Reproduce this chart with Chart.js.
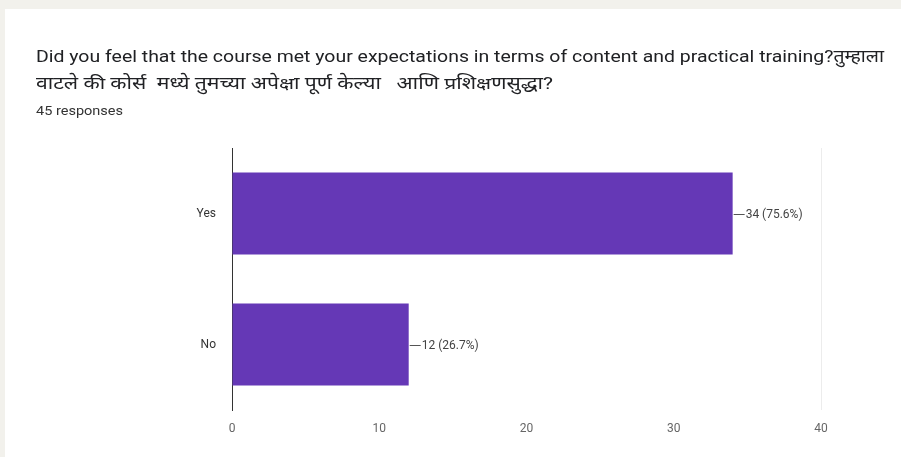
<!DOCTYPE html>
<html>
<head>
<meta charset="utf-8">
<script src="https://cdn.jsdelivr.net/npm/chart.js@4/dist/chart.umd.min.js"></script>
<style>
  html, body { margin: 0; padding: 0; background: #f2f1ec; }
  #card { position: absolute; left: 5px; top: 9px; width: 896px; height: 448px; background: #ffffff; }
  #wrap { position: absolute; left: 0; top: 0; width: 901px; height: 457px; }
  .t { position: absolute; left: 36px; white-space: nowrap; color: #202124;
       font-family: Roboto, "Noto Sans", "Noto Sans Devanagari", "Lohit Devanagari", sans-serif; transform-origin: 0 0; }
  #t1 { top: 44px; font-size: 17px; }
  #t2 { top: 71px; font-size: 17px; }
  #t3 { top: 103px; font-size: 13px; color: #333; }
</style>
</head>
<body>
<div id="card"></div>
<div id="wrap"><canvas id="c" width="901" height="457"></canvas></div>
<div class="t" id="t1">Did you feel that the course met your expectations in terms of content and practical training?तुम्हाला</div>
<div class="t" id="t2">वाटले की कोर्स &nbsp;मध्ये तुमच्या अपेक्षा पूर्ण केल्या &nbsp;&nbsp;आणि प्रशिक्षणसुद्धा?</div>
<div class="t" id="t3">45 responses</div>
<script>
const categories = ["Yes", "No"];
const counts = [34, 12];
const percents = ["75.6%", "26.7%"];
const xTicks = [0, 10, 20, 30, 40];

// fit title lines to reference widths
function fitWidth(id, target) {
  const el = document.getElementById(id);
  const w = el.getBoundingClientRect().width;
  el.style.transform = 'scaleX(' + (target / w) + ')';
}
fitWidth('t1', 848);
fitWidth('t2', 517);
fitWidth('t3', 87);

const dataLabels = {
  id: 'dataLabels',
  afterDatasetsDraw(chart) {
    const ctx = chart.ctx;
    const meta = chart.getDatasetMeta(0);
    ctx.save();
    ctx.font = '12px Roboto, Arial, sans-serif';
    ctx.fillStyle = '#444';
    ctx.strokeStyle = '#555';
    ctx.lineWidth = 1;
    ctx.textBaseline = 'middle';
    meta.data.forEach((bar, i) => {
      const x = bar.x, y = Math.round(bar.y) + 0.5;
      ctx.beginPath();
      ctx.moveTo(x + 1, y);
      ctx.lineTo(x + 12, y);
      ctx.stroke();
      ctx.fillText(counts[i] + ' (' + percents[i] + ')', x + 13, y);
    });
    ctx.restore();
  }
};

new Chart(document.getElementById('c'), {
  type: 'bar',
  data: {
    labels: categories,
    datasets: [{
      data: counts,
      backgroundColor: '#6538b6',
      borderWidth: 0,
      categoryPercentage: 0.625,
      barPercentage: 1.0
    }]
  },
  options: {
    indexAxis: 'y',
    responsive: false,
    animation: false,
    layout: { padding: { left: 0, top: 148, right: 80, bottom: 0 } },
    plugins: { legend: { display: false }, tooltip: { enabled: false }, title: { display: false } },
    scales: {
      x: {
        min: 0, max: 40,
        afterBuildTicks(s) { s.ticks = xTicks.map(v => ({ value: v })); },
        afterFit(s) { s.height = 47; },
        border: { display: false },
        grid: {
          color: (c) => (c.tick && c.tick.value === 40) ? '#ececec' : 'rgba(0,0,0,0)',
          drawTicks: false
        },
        ticks: { color: '#666', font: { family: 'Roboto, Arial, sans-serif', size: 12 }, padding: 12 }
      },
      y: {
        afterFit(s) { s.width = 232; },
        border: { display: true, color: '#333', width: 1 },
        grid: { display: false },
        ticks: { color: '#333', font: { family: 'Roboto, Arial, sans-serif', size: 12 }, padding: 8 }
      }
    }
  },
  plugins: [dataLabels]
});
</script>
</body>
</html>
